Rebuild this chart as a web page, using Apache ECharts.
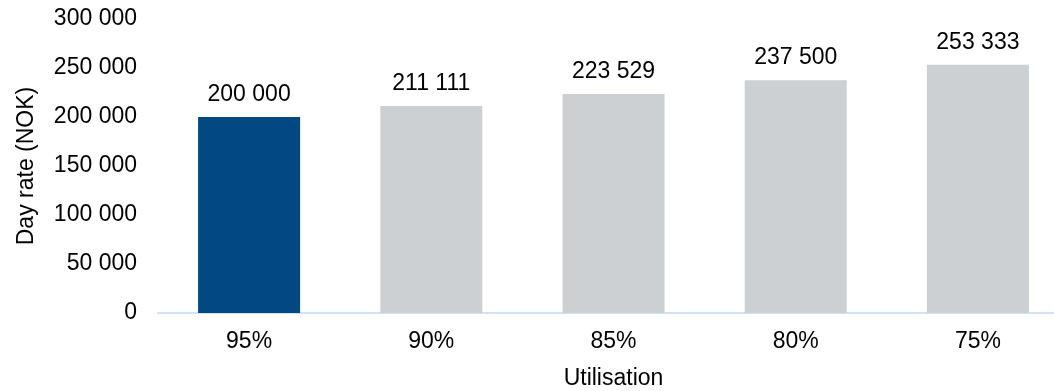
<!DOCTYPE html>
<html>
<head>
<meta charset="utf-8">
<script src="https://cdn.jsdelivr.net/npm/echarts@6/dist/echarts.min.js"></script>
<style>
  html, body { margin: 0; padding: 0; background: #fff; }
  #chart { width: 1054px; height: 391px; }
</style>
</head>
<body>
<div id="chart"></div>
<script>
const categories = ['95%', '90%', '85%', '80%', '75%'];
const dayRates = [200000, 211111, 223529, 237500, 253333];
const yTicks = [0, 50000, 100000, 150000, 200000, 250000, 300000];

const highlightColor = '#024882';
const baseColor = '#CDD0D3';
const font = 'Liberation Sans, Arial, sans-serif';

function fmt(v) {
  return String(Math.round(v)).replace(/\B(?=(\d{3})+(?!\d))/g, ' ');
}

const chart = echarts.init(document.getElementById('chart'), null, { renderer: 'canvas' });
chart.setOption({
  animation: false,
  textStyle: { fontFamily: font },
  grid: { left: 158, top: 19, bottom: 78, right: -15, outerBoundsMode: 'none', containLabel: false },
  xAxis: {
    type: 'category',
    data: categories,
    name: 'Utilisation',
    nameLocation: 'middle',
    nameGap: 54,
    nameTextStyle: { fontSize: 23, color: '#000', fontFamily: font },
    axisLine: { lineStyle: { color: '#CFE3F5', width: 2 } },
    axisTick: { show: false },
    axisLabel: { fontSize: 23, color: '#000', margin: 17, fontFamily: font }
  },
  yAxis: {
    type: 'value',
    min: yTicks[0],
    max: yTicks[yTicks.length - 1],
    interval: yTicks[1] - yTicks[0],
    name: 'Day rate (NOK)',
    nameLocation: 'middle',
    nameGap: 120,
    nameTextStyle: { fontSize: 23, color: '#000', fontFamily: font },
    splitLine: { show: false },
    axisLine: { show: false },
    axisTick: { show: false },
    axisLabel: { fontSize: 23, color: '#000', margin: 21, formatter: fmt, fontFamily: font }
  },
  series: [{
    type: 'bar',
    data: dayRates.map((v, i) => ({
      value: v,
      itemStyle: { color: i === 0 ? highlightColor : baseColor }
    })),
    barCategoryGap: '44%',
    label: {
      show: true,
      position: 'top',
      distance: 11,
      fontSize: 23,
      color: '#000',
      fontFamily: font,
      formatter: p => fmt(p.value)
    }
  }]
});
</script>
</body>
</html>
